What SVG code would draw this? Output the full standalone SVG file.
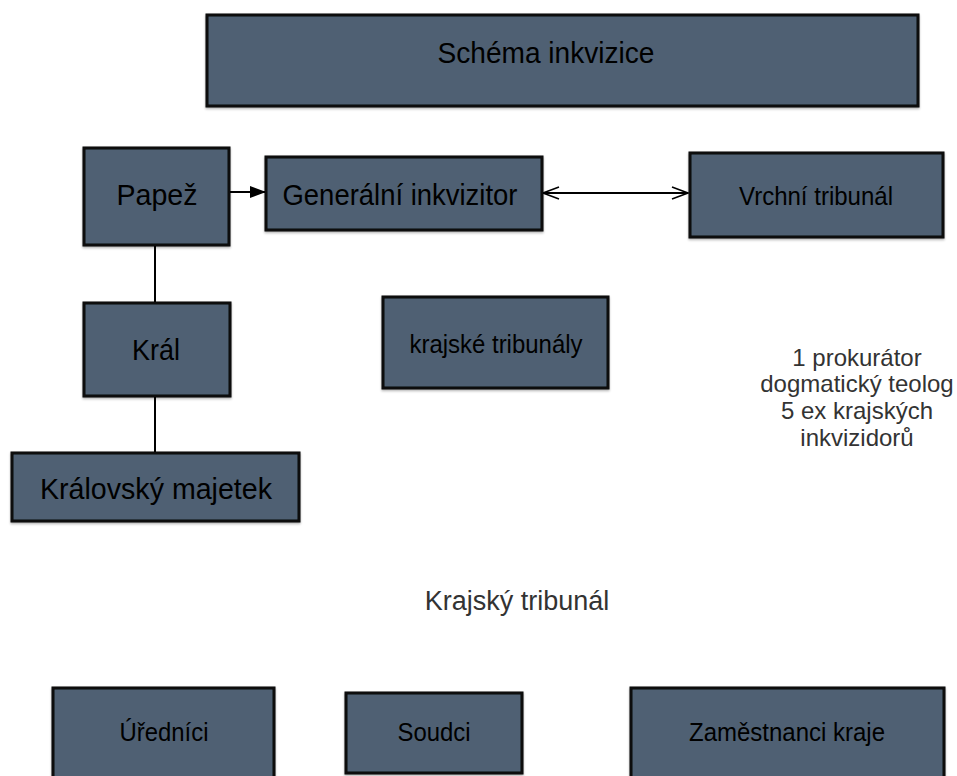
<svg xmlns="http://www.w3.org/2000/svg" width="957" height="776" viewBox="0 0 957 776">
<defs>
<style>
.box{fill:#4f6173;stroke:#0a0a0a;stroke-width:3;}
.bt{font-family:"Liberation Sans",Arial,sans-serif;fill:#000;text-anchor:middle;}
.gt{font-family:"Liberation Sans",Arial,sans-serif;fill:#333;text-anchor:middle;}
.ln{stroke:#000;stroke-width:2;fill:none;}
</style>
<marker id="fa" markerWidth="16" markerHeight="12" refX="15" refY="6" orient="auto" markerUnits="userSpaceOnUse" viewBox="0 0 16 12">
<path d="M0,0 L16,6 L0,12 Z" fill="#000"/>
</marker>
<marker id="oa" markerWidth="18" markerHeight="14" refX="17" refY="7" orient="auto-start-reverse" markerUnits="userSpaceOnUse" viewBox="0 0 18 14">
<path d="M1,1 L17,7 L1,13" fill="none" stroke="#000" stroke-width="1.6"/>
</marker>
<filter id="sh" x="-5%" y="-5%" width="110%" height="115%">
<feDropShadow dx="0" dy="1.5" stdDeviation="1" flood-color="#000" flood-opacity="0.3"/>
</filter>
</defs>
<rect width="957" height="776" fill="#fff"/>
<g id="connectors">
<line class="ln" x1="229" y1="192" x2="265" y2="192" marker-end="url(#fa)"/>
<line class="ln" x1="543" y1="193" x2="688" y2="193" marker-start="url(#oa)" marker-end="url(#oa)"/>
<line class="ln" x1="155" y1="245" x2="155" y2="303"/>
<line class="ln" x1="155" y1="396" x2="155" y2="453"/>
</g>
<g id="title">
<rect class="box" x="207" y="15" width="711" height="91" filter="url(#sh)"/>
<text class="bt" x="546" y="63" font-size="30" textLength="217" lengthAdjust="spacingAndGlyphs">Schéma inkvizice</text>
</g>
<g id="papez">
<rect class="box" x="84" y="148" width="145" height="97" filter="url(#sh)"/>
<text class="bt" x="157" y="205" font-size="30" textLength="81" lengthAdjust="spacingAndGlyphs">Papež</text>
</g>
<g id="generalni-inkvizitor">
<rect class="box" x="266" y="157" width="276" height="73" filter="url(#sh)"/>
<text class="bt" x="400" y="205" font-size="30" textLength="235" lengthAdjust="spacingAndGlyphs">Generální inkvizitor</text>
</g>
<g id="vrchni-tribunal">
<rect class="box" x="690" y="153" width="253" height="84" filter="url(#sh)"/>
<text class="bt" x="816" y="205" font-size="25" textLength="154" lengthAdjust="spacingAndGlyphs">Vrchní tribunál</text>
</g>
<g id="kral">
<rect class="box" x="84" y="303" width="146" height="93" filter="url(#sh)"/>
<text class="bt" x="156" y="360" font-size="30" textLength="48" lengthAdjust="spacingAndGlyphs">Král</text>
</g>
<g id="kralovsky-majetek">
<rect class="box" x="12" y="453" width="287" height="68" filter="url(#sh)"/>
<text class="bt" x="156" y="499" font-size="30" textLength="232" lengthAdjust="spacingAndGlyphs">Královský majetek</text>
</g>
<g id="krajske-tribunaly">
<rect class="box" x="383" y="297" width="225" height="91" filter="url(#sh)"/>
<text class="bt" x="496" y="353" font-size="25" textLength="173" lengthAdjust="spacingAndGlyphs">krajské tribunály</text>
</g>
<g id="vrchni-slozeni">
<text class="gt" x="857" y="366" font-size="24">1 prokurátor</text>
<text class="gt" x="857" y="392" font-size="24">dogmatický teolog</text>
<text class="gt" x="857" y="419" font-size="24">5 ex krajských</text>
<text class="gt" x="857" y="446" font-size="24">inkvizidorů</text>
</g>
<g id="krajsky-tribunal-label">
<text class="gt" x="517" y="610" font-size="27">Krajský tribunál</text>
</g>
<g id="urednici">
<rect class="box" x="53" y="688" width="221" height="100" filter="url(#sh)"/>
<text class="bt" x="164" y="741" font-size="25" textLength="89" lengthAdjust="spacingAndGlyphs">Úředníci</text>
</g>
<g id="soudci">
<rect class="box" x="346" y="693" width="176" height="80" filter="url(#sh)"/>
<text class="bt" x="434" y="741" font-size="25" textLength="73" lengthAdjust="spacingAndGlyphs">Soudci</text>
</g>
<g id="zamestnanci-kraje">
<rect class="box" x="631" y="688" width="313" height="100" filter="url(#sh)"/>
<text class="bt" x="787" y="741" font-size="25" textLength="196" lengthAdjust="spacingAndGlyphs">Zaměstnanci kraje</text>
</g>
</svg>
